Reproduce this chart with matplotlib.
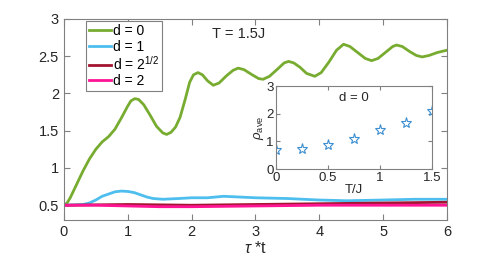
import matplotlib
matplotlib.use("Agg")
import matplotlib.pyplot as plt
import numpy as np

# main curves (tau*t, value)
t_d0 = [0.0, 0.05, 0.1, 0.2, 0.3, 0.4, 0.5, 0.6, 0.7, 0.8, 0.9, 1.0, 1.05, 1.11, 1.17, 1.25, 1.35,
        1.45, 1.55, 1.61, 1.68, 1.75, 1.82, 1.9, 1.97, 2.03, 2.1, 2.17, 2.25, 2.34, 2.43, 2.55,
        2.65, 2.73, 2.82, 2.95, 3.05, 3.12, 3.22, 3.35, 3.45, 3.52, 3.6, 3.7, 3.8, 3.93, 4.03,
        4.15, 4.27, 4.38, 4.48, 4.6, 4.72, 4.82, 4.92, 5.05, 5.15, 5.21, 5.3, 5.42, 5.52, 5.61,
        5.72, 5.85, 6.0]
v_d0 = [0.5, 0.53, 0.6, 0.78, 0.96, 1.12, 1.25, 1.35, 1.42, 1.52, 1.67, 1.83, 1.90, 1.93, 1.92, 1.85, 1.71,
        1.56, 1.47, 1.45, 1.48, 1.55, 1.68, 1.92, 2.15, 2.25, 2.28, 2.25, 2.17, 2.11, 2.14, 2.24,
        2.31, 2.34, 2.32, 2.25, 2.20, 2.19, 2.23, 2.33, 2.41, 2.43, 2.41, 2.35, 2.27, 2.23, 2.28,
        2.42, 2.58, 2.66, 2.63, 2.55, 2.47, 2.44, 2.47, 2.56, 2.63, 2.65, 2.63, 2.56, 2.51, 2.49,
        2.51, 2.55, 2.58]

t_d1 = [0, 0.3, 0.4, 0.5, 0.6, 0.7, 0.8, 0.9, 1.0, 1.1, 1.2, 1.3, 1.4, 1.55, 1.8, 2.0, 2.25, 2.5,
        2.75, 3.0, 3.5, 4.0, 4.43, 5.0, 5.5, 6.0]
v_d1 = [0.5, 0.51, 0.53, 0.57, 0.62, 0.65, 0.68, 0.69, 0.685, 0.67, 0.64, 0.61, 0.59, 0.58, 0.59,
        0.60, 0.60, 0.62, 0.61, 0.60, 0.59, 0.57, 0.56, 0.57, 0.58, 0.58]

t_dr2 = [0, 1, 2, 3, 4, 5, 6]
v_dr2 = [0.5, 0.51, 0.50, 0.51, 0.52, 0.53, 0.54]

t_d2 = [0, 0.5, 1, 1.5, 2, 3, 4, 5, 6]
v_d2 = [0.5, 0.5, 0.49, 0.48, 0.48, 0.49, 0.5, 0.5, 0.5]

# inset
T_vals = [0, 0.25, 0.5, 0.75, 1.0, 1.25, 1.5]
rho_ave = [0.68, 0.71, 0.86, 1.10, 1.40, 1.67, 2.08]

text_c = '#262626'
spine_c = '#808080'
plt.rcParams['font.family'] = ['Liberation Sans', 'DejaVu Sans']
plt.rcParams['mathtext.fontset'] = 'custom'
plt.rcParams['mathtext.rm'] = 'Liberation Sans'
plt.rcParams['mathtext.it'] = 'Liberation Sans:italic'

fig = plt.figure(figsize=(4.95, 2.63), dpi=100)
ax = fig.add_axes([0.129, 0.163, 0.774, 0.765])
lw = 2.0
ax.plot(t_d0, v_d0, color='#77AC30', lw=lw, label='d = 0')
ax.plot(t_d1, v_d1, color='#4DBEEE', lw=lw, label='d = 1')
ax.plot(t_dr2, v_dr2, color='#A2142F', lw=lw, label=r'd = 2$^{1/2}$')
ax.plot(t_d2, v_d2, color='#FF1493', lw=lw, label='d = 2')
ax.set_xlim(0, 6)
ax.set_ylim(0.3, 3)
ax.set_xticks(range(0, 7))
ax.set_yticks([0.5, 1, 1.5, 2, 2.5, 3])
ax.set_yticklabels(['0.5', '1', '1.5', '2', '2.5', '3'])
ax.tick_params(direction='in', length=4, top=True, right=True, labelsize=10.5, colors=text_c, color=spine_c)
for s in ax.spines.values():
    s.set_color(spine_c)
ax.set_xlabel(r'$\tau$ *t', fontsize=11.5, color=text_c, labelpad=1)
ax.text(2.73, 2.80, 'T = 1.5J', fontsize=10.5, ha='center', va='center', color=text_c)
leg = ax.legend(loc='upper left', bbox_to_anchor=(0.058, 0.988), fontsize=10, handlelength=1.6,
                handletextpad=0.15, labelspacing=0.1, borderpad=0.2, borderaxespad=0,
                fancybox=False, framealpha=1, edgecolor=spine_c)
leg.get_frame().set_linewidth(0.8)

axi = fig.add_axes([0.558, 0.357, 0.315, 0.316])
axi.plot(T_vals, rho_ave, linestyle='none', marker='*', markersize=8, markerfacecolor='none',
         markeredgecolor='#3D8FD0', markeredgewidth=0.8)
axi.set_xlim(0, 1.5)
axi.set_ylim(0, 3)
axi.set_xticks([0, 0.5, 1, 1.5])
axi.set_xticklabels(['0', '0.5', '1', '1.5'])
axi.set_yticks([0, 1, 2, 3])
axi.tick_params(direction='in', length=3, top=True, right=True, labelsize=9.5, colors=text_c, color=spine_c, pad=2)
for s in axi.spines.values():
    s.set_color(spine_c)
axi.set_xlabel('T/J', fontsize=9.5, color=text_c, labelpad=0)
axi.set_ylabel(r'$\rho_{\rm ave}$', fontsize=9.5, color=text_c, labelpad=0)
axi.text(0.75, 2.55, 'd = 0', fontsize=9.5, ha='center', va='center', color=text_c)

fig.savefig('out.png', dpi=100)
